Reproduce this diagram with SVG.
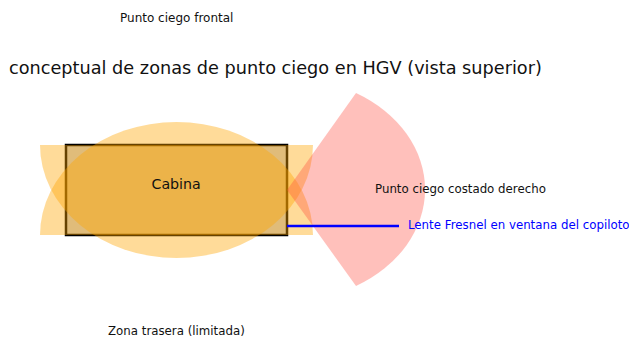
<svg xmlns="http://www.w3.org/2000/svg" width="629" height="337" viewBox="0 0 629 337">
<style>
text{font-family:"DejaVu Sans",sans-serif;fill:#111}
.z{fill:#ffa500;fill-opacity:.4}
.s{font-size:11.800px}
</style>
<rect width="629" height="337" fill="#fff"/>
<text x="9" y="74" font-size="17.700">conceptual de zonas de punto ciego en HGV (vista superior)</text>
<g id="cabina"><rect x="66" y="145" width="221" height="90" fill="#ccc" stroke="#000" stroke-width="2.500"/></g>
<g id="zona-frontal"><path class="z" d="M40 235A136.500 113 0 0 1 313 235Z"/><text class="s" x="120" y="22" style="font-size:12px">Punto ciego frontal</text></g>
<g id="zona-trasera"><path class="z" d="M40 145A136.500 113 0 0 0 313 145Z"/><text class="s" x="108" y="335">Zona trasera (limitada)</text></g>
<g id="zona-derecha"><path fill="#ff4a3c" fill-opacity=".35" d="M287 190L356 93A138 111.400 0 0 1 356 286Z"/><text class="s" x="375" y="193">Punto ciego costado derecho</text></g>
<g id="connectors"><line x1="287" y1="226" x2="399" y2="226" stroke="#0000ff" stroke-width="2.500"/></g>
<g id="lente"><text class="s" x="408" y="229" style="fill:#0000ff">Lente Fresnel en ventana del copiloto</text></g>
<g id="cabina-etiqueta"><text x="151.500" y="189" font-size="14.200">Cabina</text></g>
</svg>
